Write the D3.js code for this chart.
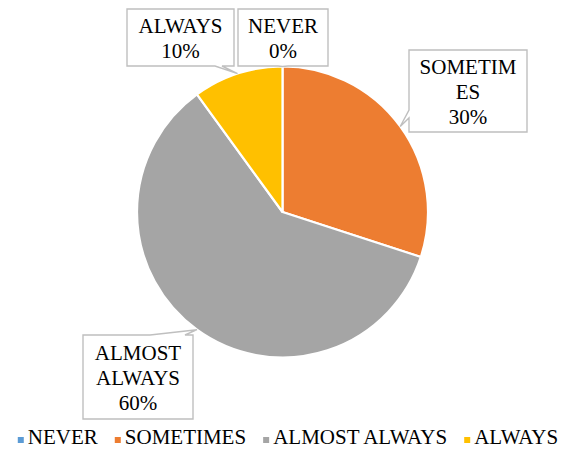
<!DOCTYPE html>
<html>
<head>
<meta charset="utf-8">
<script src="https://cdn.jsdelivr.net/npm/d3@7"></script>
<style>
  html, body { margin: 0; padding: 0; background: #ffffff; }
  svg { display: block; }
  .lbl { font-family: "Liberation Serif", "DejaVu Serif", "Noto Serif", "Times New Roman", Times, serif; }
</style>
</head>
<body>
<svg id="chart" width="574" height="452"></svg>
<script>
// Survey answers and their share (%)
const categories = ["NEVER", "SOMETIMES", "ALMOST ALWAYS", "ALWAYS"];
const values = [0, 30, 60, 10];
const colors = ["#5B9BD5", "#ED7D31", "#A5A5A5", "#FFC000"];

// Callout label text, one entry per category (lines of each label)
const labelLines = [
  ["NEVER", "0%"],
  ["SOMETIM", "ES", "30%"],
  ["ALMOST", "ALWAYS", "60%"],
  ["ALWAYS", "10%"]
];

// Callout box layout: box rectangle, edge that holds the pointer, and pointer base span along that edge
const callouts = [
  { x: 238, y: 9,   w: 90,  h: 57, side: "bottom", a: 278, b: 288 },
  { x: 409, y: 50,  w: 118, h: 82, side: "left",   a: 110, b: 118 },
  { x: 83,  y: 335, w: 110, h: 84, side: "top",    a: 150, b: 185 },
  { x: 127, y: 9,   w: 107, h: 57, side: "bottom", a: 215, b: 222 }
];

const svg = d3.select("#chart");
const cx = 282.5, cy = 212, radius = 145.5;
const fontSize = 21;

const pie = d3.pie().sort(null).value(d => d.value);
const arcs = pie(categories.map((c, i) => ({ name: c, value: values[i], color: colors[i] })));

const arc = d3.arc().innerRadius(0).outerRadius(radius);
const edgeArc = d3.arc().innerRadius(radius).outerRadius(radius);

const g = svg.append("g").attr("transform", `translate(${cx},${cy})`);

g.selectAll("path.slice")
  .data(arcs)
  .join("path")
  .attr("class", "slice")
  .attr("d", arc)
  .attr("fill", d => d.data.color)
  .attr("stroke", "#ffffff")
  .attr("stroke-width", 2.2)
  .attr("stroke-linejoin", "round");

// Callout outline: rectangle with a pointer wedge inserted into one edge
function calloutPath(c, tip) {
  const x0 = c.x, y0 = c.y, x1 = c.x + c.w, y1 = c.y + c.h;
  const p = d3.path();
  p.moveTo(x0, y0);
  if (c.side === "top") { p.lineTo(c.a, y0); p.lineTo(tip[0], tip[1]); p.lineTo(c.b, y0); }
  p.lineTo(x1, y0);
  p.lineTo(x1, y1);
  if (c.side === "bottom") { p.lineTo(c.b, y1); p.lineTo(tip[0], tip[1]); p.lineTo(c.a, y1); }
  p.lineTo(x0, y1);
  if (c.side === "left") { p.lineTo(x0, c.b); p.lineTo(tip[0], tip[1]); p.lineTo(x0, c.a); }
  p.closePath();
  return p.toString();
}

const labels = svg.append("g");
arcs.forEach((d, i) => {
  const c = callouts[i];
  const t = edgeArc.centroid(d);
  const tip = [cx + t[0], cy + t[1]];
  labels.append("path")
    .attr("d", calloutPath(c, tip))
    .attr("fill", "#ffffff")
    .attr("stroke", "#BFBFBF")
    .attr("stroke-width", 1.4)
    .attr("stroke-linejoin", "miter");

  const lines = labelLines[i];
  const lh = 25;
  const midBase = c.y + c.h / 2 + 7.5;
  const firstBase = midBase - (lines.length - 1) * lh / 2;
  const txt = labels.append("text")
    .attr("class", "lbl")
    .attr("text-anchor", "middle")
    .attr("font-size", fontSize)
    .attr("fill", "#000");
  lines.forEach((ln, k) => {
    txt.append("tspan")
      .attr("x", c.x + c.w / 2)
      .attr("y", firstBase + k * lh)
      .text(ln);
  });
});

// Legend along the bottom, centred
const legend = svg.append("g");
const items = legend.selectAll("g.item")
  .data(categories)
  .join("g")
  .attr("class", "item");
items.append("rect")
  .attr("width", 6).attr("height", 6)
  .attr("y", -7)
  .attr("fill", (d, i) => colors[i]);
items.append("text")
  .attr("class", "lbl")
  .attr("x", 10)
  .attr("font-size", fontSize)
  .attr("fill", "#000")
  .text(d => d);

let xpos = 0;
const gap = 17;
items.each(function () {
  const w = 10 + d3.select(this).select("text").node().getComputedTextLength();
  d3.select(this).attr("transform", `translate(${xpos},0)`);
  xpos += w + gap;
});
const totalW = xpos - gap;
legend.attr("transform", `translate(${(574 - totalW) / 2 + 1},444)`);
</script>
</body>
</html>
